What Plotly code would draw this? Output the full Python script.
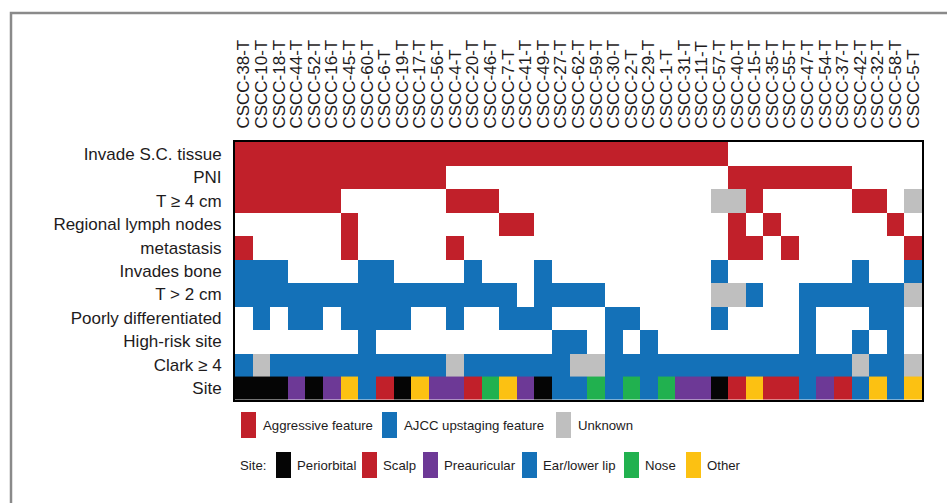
import plotly.graph_objects as go

# ---- data -------------------------------------------------------------
samples = [
    "CSCC-38-T", "CSCC-10-T", "CSCC-18-T", "CSCC-44-T", "CSCC-52-T", "CSCC-16-T",
    "CSCC-45-T", "CSCC-60-T", "CSCC-6-T", "CSCC-19-T", "CSCC-17-T", "CSCC-56-T",
    "CSCC-4-T", "CSCC-20-T", "CSCC-46-T", "CSCC-7-T", "CSCC-41-T", "CSCC-49-T",
    "CSCC-27-T", "CSCC-62-T", "CSCC-59-T", "CSCC-30-T", "CSCC-2-T", "CSCC-29-T",
    "CSCC-1-T", "CSCC-31-T", "CSCC-11-T", "CSCC-57-T", "CSCC-40-T", "CSCC-15-T",
    "CSCC-35-T", "CSCC-55-T", "CSCC-47-T", "CSCC-54-T", "CSCC-37-T", "CSCC-42-T",
    "CSCC-32-T", "CSCC-58-T", "CSCC-5-T",
]

feature_labels = [
    "Invade S.C. tissue", "PNI", "T \u2265 4 cm", "Regional lymph nodes", "metastasis",
    "Invades bone", "T > 2 cm", "Poorly differentiated", "High-risk site", "Clark \u2265 4",
]
site_label = "Site"

# 0 = absent, 1 = aggressive feature, 2 = AJCC upstaging feature, 3 = unknown
invade_sc = [1, 1, 1, 1, 1, 1, 1, 1, 1, 1, 1, 1, 1, 1, 1, 1, 1, 1, 1, 1,
             1, 1, 1, 1, 1, 1, 1, 1, 0, 0, 0, 0, 0, 0, 0, 0, 0, 0, 0]
pni = [1, 1, 1, 1, 1, 1, 1, 1, 1, 1, 1, 1, 0, 0, 0, 0, 0, 0, 0, 0,
       0, 0, 0, 0, 0, 0, 0, 0, 1, 1, 1, 1, 1, 1, 1, 0, 0, 0, 0]
t_ge4 = [1, 1, 1, 1, 1, 1, 0, 0, 0, 0, 0, 0, 1, 1, 1, 0, 0, 0, 0, 0,
         0, 0, 0, 0, 0, 0, 0, 3, 3, 1, 0, 0, 0, 0, 0, 1, 1, 0, 3]
regional_ln = [0, 0, 0, 0, 0, 0, 1, 0, 0, 0, 0, 0, 0, 0, 0, 1, 1, 0, 0, 0,
               0, 0, 0, 0, 0, 0, 0, 0, 1, 0, 1, 0, 0, 0, 0, 0, 0, 1, 0]
metastasis = [1, 0, 0, 0, 0, 0, 1, 0, 0, 0, 0, 0, 1, 0, 0, 0, 0, 0, 0, 0,
              0, 0, 0, 0, 0, 0, 0, 0, 1, 1, 0, 1, 0, 0, 0, 0, 0, 0, 1]
invades_bone = [2, 2, 2, 0, 0, 0, 0, 2, 2, 0, 0, 0, 0, 2, 0, 0, 0, 2, 0, 0,
                0, 0, 0, 0, 0, 0, 0, 2, 0, 0, 0, 0, 0, 0, 0, 2, 0, 0, 2]
t_gt2 = [2, 2, 2, 2, 2, 2, 2, 2, 2, 2, 2, 2, 2, 2, 2, 2, 0, 2, 2, 2,
         2, 0, 0, 0, 0, 0, 0, 3, 3, 2, 0, 0, 2, 2, 2, 2, 2, 2, 3]
poorly_diff = [0, 2, 0, 2, 2, 0, 2, 2, 2, 2, 0, 0, 2, 0, 0, 2, 2, 2, 0, 0,
               0, 2, 2, 0, 0, 0, 0, 2, 0, 0, 0, 0, 2, 0, 0, 0, 2, 2, 0]
high_risk_site = [0, 0, 0, 0, 0, 0, 0, 2, 0, 0, 0, 0, 0, 0, 0, 0, 0, 0, 2, 2,
                  0, 2, 0, 2, 0, 0, 0, 0, 0, 0, 0, 0, 2, 0, 0, 2, 0, 2, 0]
clark_ge4 = [2, 3, 2, 2, 2, 2, 2, 2, 2, 2, 2, 2, 3, 2, 2, 2, 2, 2, 2, 3,
             3, 2, 2, 2, 2, 2, 2, 2, 2, 2, 2, 2, 2, 2, 2, 3, 2, 2, 3]

sites = [
    "Periorbital", "Periorbital", "Periorbital", "Preauricular", "Periorbital",
    "Preauricular", "Other", "Ear/lower lip", "Scalp", "Periorbital", "Other",
    "Preauricular", "Preauricular", "Scalp", "Nose", "Other", "Preauricular",
    "Periorbital", "Ear/lower lip", "Ear/lower lip", "Nose", "Ear/lower lip",
    "Nose", "Ear/lower lip", "Nose", "Preauricular", "Preauricular",
    "Periorbital", "Scalp", "Other", "Scalp", "Scalp", "Ear/lower lip",
    "Preauricular", "Scalp", "Ear/lower lip", "Other", "Ear/lower lip", "Other",
]

status_names = ["Aggressive feature", "AJCC upstaging feature", "Unknown"]
site_names = ["Periorbital", "Scalp", "Preauricular", "Ear/lower lip", "Nose", "Other"]

# ---- styles -----------------------------------------------------------
RED = "#C1202A"
BLUE = "#1471B8"
GRAY = "#BFBFBF"
status_colors = ["#FFFFFF", RED, BLUE, GRAY]
site_colors = ["#050505", RED, "#6D3996", BLUE, "#21B14F", "#FCC112"]
FONT = "Liberation Sans, Arial, Helvetica, sans-serif"
TXT = "#1E1B1C"
LEGEND_SIZE = 13.2

W, H = 947, 503
ML, MR, MT, MB = 235, 25, 142, 103


def stepped(colors):
    n = len(colors)
    scale = []
    for i, c in enumerate(colors):
        scale.append([i / n, c])
        scale.append([(i + 1) / n, c])
    return scale


feature_rows = [invade_sc, pni, t_ge4, regional_ln, metastasis, invades_bone,
                t_gt2, poorly_diff, high_risk_site, clark_ge4]
n_cols = len(samples)
x_idx = list(range(n_cols))
row_labels = feature_labels + [site_label]

fig = go.Figure()

fig.add_trace(go.Heatmap(
    z=feature_rows,
    x=x_idx,
    y=list(range(len(feature_rows))),
    zmin=-0.5, zmax=len(status_colors) - 0.5,
    colorscale=stepped(status_colors),
    showscale=False,
    hovertemplate="%{customdata}<extra></extra>",
    customdata=[[f"{feature_labels[r]} | {samples[c]}" for c in x_idx]
                for r in range(len(feature_rows))],
))

site_codes = [site_names.index(s) for s in sites]
fig.add_trace(go.Heatmap(
    z=[site_codes],
    x=x_idx,
    y=[len(feature_rows)],
    zmin=-0.5, zmax=len(site_colors) - 0.5,
    colorscale=stepped(site_colors),
    showscale=False,
    customdata=[sites],
    hovertemplate="%{customdata}<extra></extra>",
))

fig.update_xaxes(
    range=[-0.5, n_cols - 0.5],
    side="top",
    tickmode="array",
    tickvals=x_idx,
    ticktext=samples,
    tickangle=-90,
    ticks="",
    ticklabelstandoff=8,
    tickfont=dict(family=FONT, size=17, color=TXT),
    showgrid=False, zeroline=False,
    showline=True, mirror=True, linecolor="#000000", linewidth=2,
)
fig.update_yaxes(
    range=[len(row_labels) - 0.5, -0.5],
    tickmode="array",
    tickvals=list(range(len(row_labels))),
    ticktext=row_labels,
    ticks="",
    ticklabelstandoff=8,
    tickfont=dict(family=FONT, size=17, color=TXT),
    showgrid=False, zeroline=False,
    showline=True, mirror=True, linecolor="#000000", linewidth=2,
)

# ---- legend (drawn in pixel space) ------------------------------------
PW, PH = W - ML - MR, H - MT - MB


def px(x):
    return (x - ML) / PW


def py(y):
    return (H - MB - y) / PH


shapes = []
annotations = []


def swatch(x0, yc, color, label, label_x):
    shapes.append(dict(type="rect", xref="paper", yref="paper",
                       x0=px(x0), x1=px(x0 + 15), y0=py(yc + 13), y1=py(yc - 13),
                       fillcolor=color, line=dict(width=0)))
    annotations.append(dict(xref="paper", yref="paper", x=px(label_x), y=py(yc),
                            xanchor="left", yanchor="middle", showarrow=False,
                            text=label, font=dict(family=FONT, size=LEGEND_SIZE, color=TXT)))


status_swatch_x = [241, 382, 556]
for x0, col, name in zip(status_swatch_x, status_colors[1:], status_names):
    swatch(x0, 425, col, name, x0 + 20)

annotations.append(dict(xref="paper", yref="paper", x=px(238), y=py(465),
                        xanchor="left", yanchor="middle", showarrow=False,
                        text="Site:", font=dict(family=FONT, size=LEGEND_SIZE, color=TXT)))
site_swatch_x = [276, 362, 423, 522, 624, 686]
for x0, col, name in zip(site_swatch_x, site_colors, site_names):
    swatch(x0, 465, col, name, x0 + 19)

# outer grey frame
shapes.append(dict(type="rect", xref="paper", yref="paper",
                   x0=px(11), x1=px(W + 20), y0=py(H + 20), y1=py(13),
                   line=dict(color="#8A8A8A", width=2.5), fillcolor="rgba(0,0,0,0)",
                   layer="below"))

fig.update_layout(
    width=W, height=H, autosize=False,
    margin=dict(l=ML, r=MR, t=MT, b=MB, pad=0),
    paper_bgcolor="#FFFFFF", plot_bgcolor="#FFFFFF",
    shapes=shapes, annotations=annotations,
    showlegend=False,
)

fig.write_html("out.html")
